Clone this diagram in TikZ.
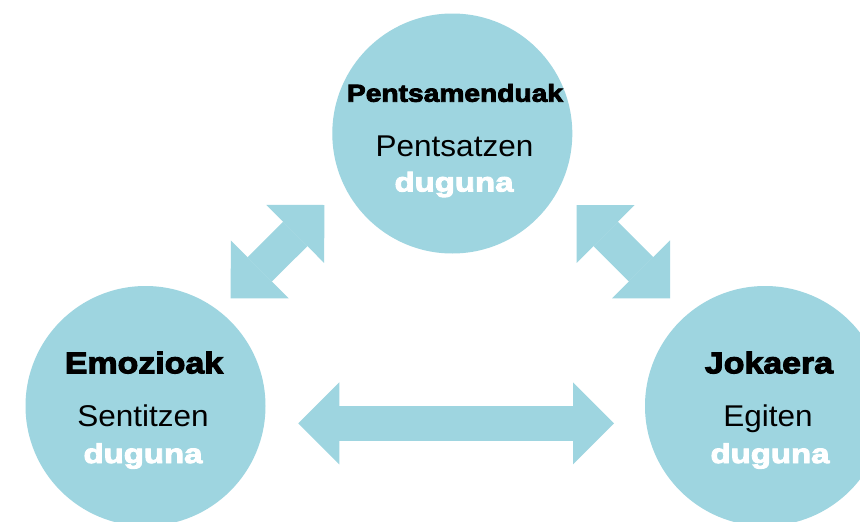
\documentclass[tikz,border=0pt]{standalone}
\usepackage{fontspec}
\setmainfont{Liberation Sans}
\newfontfamily\heavyfont[FakeStretch=1.13,FakeBold=3.5]{Liberation Sans Bold}
\newfontfamily\heavytopfont[FakeStretch=1.15,FakeBold=3.5]{Liberation Sans Bold}
\newfontfamily\heavywhitefont[FakeStretch=1.22,FakeBold=3.5]{Liberation Sans Bold}
\newfontfamily\regfont[FakeStretch=1.05]{Liberation Sans}
\usetikzlibrary{arrows.meta}
\definecolor{circblue}{RGB}{158,213,224}
\begin{document}
\begin{tikzpicture}[x=1pt,y=-1pt,
  bubble/.style={circle,fill=circblue,draw=none,minimum size=240pt,inner sep=0pt},
  headtxt/.style={anchor=base,inner sep=0pt,text=black,font=\heavyfont\fontsize{30}{30}\selectfont},
  headtoptxt/.style={anchor=base,inner sep=0pt,text=black,font=\heavytopfont\fontsize{24.5}{24.5}\selectfont},
  regtxt/.style={anchor=base,inner sep=0pt,text=black,font=\regfont\fontsize{30}{30}\selectfont},
  whitetxt/.style={anchor=base,inner sep=0pt,text=white,font=\heavywhitefont\fontsize{27}{27}\selectfont},
  link/.style={draw=circblue,line width=34.4pt,
    {Triangle[width=82pt,length=41pt,line width=0pt]}-{Triangle[width=82pt,length=41pt,line width=0pt]}}
]
\useasboundingbox (0,0) rectangle (860,522);
\clip (0,0) rectangle (860,522);
\fill[white] (0,0) rectangle (860,522);

\node[bubble] (top) at (452.3,133.5) {};
\node[bubble] (emo) at (145.5,406) {};
\node[bubble] (jok) at (765,406) {};

\node[headtoptxt] (topA) at (455,101.7) {Pentsamenduak};
\node[regtxt]     (topB) at (454.5,156.3) {Pentsatzen};
\node[whitetxt]   (topC) at (454,191.5) {duguna};

\node[headtxt]  (emoA) at (144,373.3) {Emozioak};
\node[regtxt]   (emoB) at (143,426.5) {Sentitzen};
\node[whitetxt] (emoC) at (143,463) {duguna};

\node[headtxt]  (jokA) at (769,373.3) {Jokaera};
\node[regtxt]   (jokB) at (768,426.5) {Egiten};
\node[whitetxt] (jokC) at (770,463) {duguna};

\coordinate (l1) at (230.7,298.3);
\coordinate (l2) at (324.3,205);
\coordinate (r1) at (576.7,205);
\coordinate (r2) at (670,298.3);
\coordinate (h1) at (298.3,423.3);
\coordinate (h2) at (614,423.3);

\draw[link] (l1) -- (l2);
\draw[link] (r1) -- (r2);
\draw[link] (h1) -- (h2);
\end{tikzpicture}
\end{document}
